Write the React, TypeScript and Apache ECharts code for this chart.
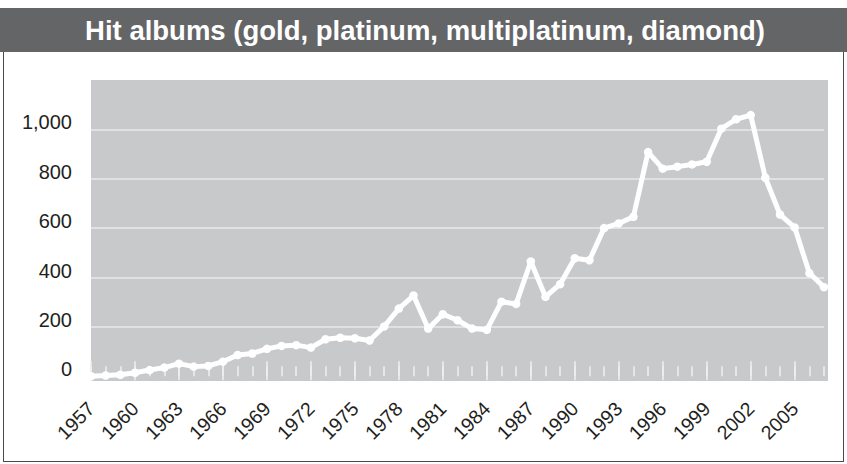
import React, { useEffect, useRef } from "react";
import * as echarts from "echarts";

const TITLE = "Hit albums (gold, platinum, multiplatinum, diamond)";

const years = [
  "1957", "1958", "1959", "1960", "1961", "1962", "1963", "1964", "1965", "1966",
  "1967", "1968", "1969", "1970", "1971", "1972", "1973", "1974", "1975", "1976",
  "1977", "1978", "1979", "1980", "1981", "1982", "1983", "1984", "1985", "1986",
  "1987", "1988", "1989", "1990", "1991", "1992", "1993", "1994", "1995", "1996",
  "1997", "1998", "1999", "2000", "2001", "2002", "2003", "2004", "2005", "2006",
  "2007",
];

const hitAlbums = [
  0, 3, 6, 14, 25, 35, 51, 39, 42, 59,
  86, 92, 111, 123, 126, 116, 150, 156, 154, 145,
  202, 274, 327, 193, 251, 227, 193, 188, 302, 293,
  465, 322, 373, 478, 470, 600, 619, 646, 908, 841,
  849, 858, 869, 1003, 1041, 1058, 804, 655, 603, 418,
  361,
];

const yTicks = [0, 200, 400, 600, 800, 1000, 1200];

const FONT = "'Liberation Sans', Arial, Helvetica, sans-serif";

export default function App() {
  const ref = useRef<HTMLDivElement>(null);

  useEffect(() => {
    if (!ref.current) return;
    const chart = echarts.init(ref.current, undefined, { renderer: "svg" });
    const gridColors = yTicks.map((v, i) =>
      i === 0 || i === yTicks.length - 1 ? "rgba(0,0,0,0)" : "#e9e9ea"
    );
    chart.setOption({
      animation: false,
      backgroundColor: "#ffffff",
      graphic: [
        {
          type: "rect",
          z: -10,
          silent: true,
          shape: { x: 0, y: 8, width: 847, height: 44 },
          style: { fill: "#646567" },
        },
        {
          type: "line",
          z: -10,
          silent: true,
          shape: { x1: 3.5, y1: 52, x2: 3.5, y2: 462 },
          style: { stroke: "#4a4a4a", lineWidth: 1 },
        },
        {
          type: "line",
          z: -10,
          silent: true,
          shape: { x1: 843.5, y1: 52, x2: 843.5, y2: 462 },
          style: { stroke: "#4a4a4a", lineWidth: 1 },
        },
        {
          type: "line",
          z: -10,
          silent: true,
          shape: { x1: 3.5, y1: 461.5, x2: 843.5, y2: 461.5 },
          style: { stroke: "#4a4a4a", lineWidth: 1 },
        },
        {
          type: "text",
          z: 10,
          silent: true,
          x: 425,
          y: 30,
          style: {
            text: TITLE,
            fill: "#ffffff",
            font: `bold 27.5px ${FONT}`,
            textAlign: "center",
            textVerticalAlign: "middle",
          },
        },
        {
          type: "rect",
          z: -5,
          silent: true,
          shape: { x: 91, y: 80, width: 737, height: 301 },
          style: { fill: "#c8c9cb" },
        },
      ],
      grid: {
        left: 91,
        top: 80,
        width: 733,
        height: 296.25,
        containLabel: false,
      },
      xAxis: [
        {
          type: "category",
          data: years,
          boundaryGap: false,
          position: "bottom",
          offset: 4,
          axisLine: { show: false },
          axisTick: {
            show: true,
            inside: true,
            length: 10,
            interval: 0,
            lineStyle: { color: "#efefef", width: 1.5 },
          },
          axisLabel: { show: false },
          splitLine: { show: false },
        },
        {
          type: "category",
          data: years,
          boundaryGap: false,
          position: "bottom",
          offset: 4,
          axisLine: { show: false },
          axisTick: {
            show: true,
            inside: true,
            length: 19,
            interval: 2,
            lineStyle: { color: "#efefef", width: 1.5 },
          },
          axisLabel: {
            show: true,
            interval: 2,
            rotate: 45,
            margin: 25,
            color: "#231f20",
            fontSize: 19.5,
            fontFamily: FONT,
          },
          splitLine: { show: false },
        },
      ],
      yAxis: {
        type: "value",
        min: 0,
        max: 1200,
        interval: 200,
        axisLine: { show: false },
        axisTick: { show: false },
        axisLabel: {
          color: "#231f20",
          fontSize: 20,
          fontFamily: FONT,
          margin: 19,
          verticalAlign: "bottom",
          lineHeight: 14,
          formatter: (v: number) =>
            v >= 1200 ? "" : v.toLocaleString("en-US"),
        },
        splitLine: {
          show: true,
          lineStyle: { color: gridColors, width: 1.5 },
        },
      },
      series: [
        {
          type: "line",
          xAxisIndex: 0,
          data: hitAlbums,
          symbol: "circle",
          symbolSize: 8.5,
          showSymbol: true,
          clip: false,
          lineStyle: { color: "#ffffff", width: 5 },
          itemStyle: { color: "#ffffff", borderWidth: 0 },
        },
      ],
    });
    return () => chart.dispose();
  }, []);

  return (
    <div
      ref={ref}
      style={{ position: "absolute", left: 0, top: 0, width: 847, height: 464 }}
    />
  );
}
